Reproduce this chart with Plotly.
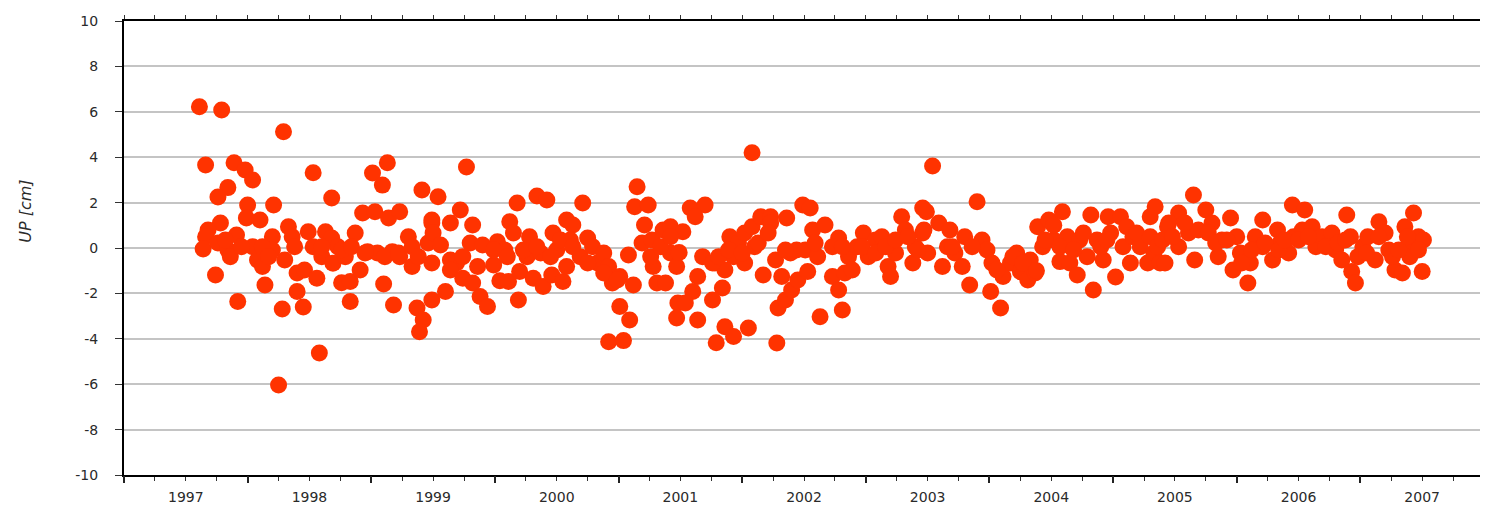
import plotly.graph_objects as go

# ---- data: decimal year vs. UP component [cm] ----
t_a = [1997.61, 1997.79, 1998.29, 1997.66, 1997.89, 1997.98, 1998.04, 1997.84, 1997.76, 1998.00,
       1998.21, 1997.99, 1998.10, 1997.78, 1997.68, 1997.66, 1997.64, 1997.76, 1997.84, 1997.86,
       1997.91, 1998.04, 1998.08, 1998.12, 1998.20, 1998.20, 1998.30, 1997.74, 1998.14, 1997.92,
       1998.28, 1998.40, 1998.45, 1998.58, 1998.25, 1998.53, 1998.68, 1998.33, 1998.36, 1998.40,
       1998.46, 1998.49, 1998.56, 1998.53, 1998.63, 1998.60, 1998.68, 1998.69, 1998.73, 1998.79,
       1998.76, 1998.83, 1998.83, 1998.87, 1998.91, 1998.93, 1999.03, 1999.01, 1999.09, 1999.13,
       1999.14, 1999.23, 1998.97, 1999.05, 1999.17, 1999.10, 1999.18, 1999.23, 1999.30, 1999.33,
       1999.37, 1999.42, 1999.39, 1999.41, 1999.49, 1999.46, 1999.49, 1999.49]
up_a = [6.22, 6.08, 5.12, 3.66, 3.76, 3.44, 3.00, 2.66, 2.25, 1.89,
        1.89, 1.32, 1.23, 1.10, 0.79, 0.50, -0.04, 0.22, -0.09, -0.38,
        0.57, 0.06, -0.53, -0.82, 0.50, -0.09, -0.53, -1.19, -1.63, -2.36,
        -2.69, -1.92, -2.60, -4.63, -6.04, 3.32, 2.20, 0.94, 0.50, -1.10,
        -0.97, 0.72, -1.33, 0.06, 0.72, -0.38, 0.44, -0.67, 0.06, -0.38,
        -1.53, -1.48, -2.36, 0.66, -0.97, 1.54, 1.60, 3.30, 2.77, 3.76,
        1.32, 1.60, -0.16, -0.22, -0.16, -1.59, -2.51, -0.38, 0.50, -0.82,
        -2.64, -3.17, -3.69, 2.56, 1.10, 0.22, -0.66, -2.29]

t_b = [1999.77, 1999.54, 1999.49, 1999.72, 1999.64, 1999.82, 1999.50, 1999.56, 1999.64, 1999.69,
       1999.64, 1999.80, 1999.90, 2000.02, 2000.08, 1999.86, 1999.99, 1999.74, 1999.82, 1999.60,
       1999.88, 1999.94, 2000.04, 2000.11, 2000.19, 2000.12, 2000.15, 2000.18, 2000.34, 2000.42,
       2000.28, 2000.26, 2000.20, 2000.31, 2000.39, 2000.37, 2000.46, 2000.47, 2000.50, 2000.55,
       2000.58, 2000.63, 2000.61, 2000.58, 2000.71, 2000.75, 2000.69, 2000.79, 2000.83, 2000.88,
       2000.92, 2000.95, 2001.01, 2001.12, 2001.01, 2001.09, 2000.92, 2001.04, 2001.08, 2001.15,
       2001.13, 2001.24, 2001.21, 2001.19, 2001.27, 2001.28, 2001.31, 2001.38, 2001.36, 2001.42,
       2001.42, 2001.47, 2001.48, 2001.47]
up_b = [3.57, 2.26, 1.23, 1.67, 1.10, 1.01, 0.66, 0.13, -0.53, -0.66,
        -0.97, 0.22, 0.13, 0.28, -0.09, -0.82, -0.75, -1.33, -1.54, -1.92,
        -2.14, -2.58, -1.44, -1.48, -2.29, 1.16, 0.66, 1.98, 2.29, 2.11,
        0.50, -0.38, -1.04, -1.33, -1.70, -0.22, -1.19, 0.66, -0.09, -1.48,
        1.23, 1.01, 0.35, -0.82, 1.98, 0.44, -0.38, 0.06, -0.66, -0.22,
        -0.82, -1.54, -1.26, -1.63, -2.58, -3.17, -4.13, -4.08, -0.31, 2.70,
        1.82, 1.89, 1.01, 0.22, 0.35, -0.82, -1.54, -1.54, 0.79, 0.94,
        -0.22, -0.82, -2.42, -3.08]

t_c = [2002.08, 2001.52, 2001.58, 2001.70, 2001.62, 2001.49, 2001.64, 2001.60, 2001.54, 2001.64,
       2001.84, 2001.76, 2001.86, 2001.93, 2001.79, 2002.05, 2001.68, 2001.78, 2001.86, 2001.90,
       2001.97, 2002.02, 2001.93, 2002.02, 2002.10, 2002.08, 2002.15, 2002.23, 2002.23, 2002.17,
       2002.27, 2002.32, 2002.36, 2002.29, 2002.35, 2002.40, 2002.45, 2002.53, 2002.28, 2002.39,
       2002.44, 2002.49, 2002.55, 2002.51, 2002.57, 2002.61, 2002.67, 2002.63, 2002.73, 2002.78,
       2002.78, 2002.81, 2002.83, 2002.86, 2002.89, 2002.93, 2002.98, 2003.02, 2003.08, 2003.13,
       2003.18, 2003.20, 2003.24, 2003.29, 2003.32, 2003.38, 2003.40, 2003.46, 2003.46]
up_c = [4.20, 0.72, 1.76, 1.89, 1.38, -0.20, -1.26, -1.92, -2.42, -3.17,
        -1.76, -2.29, -3.47, -3.90, -4.17, -3.52, -0.38, -0.66, -0.97, 0.50,
        0.22, 0.66, -0.38, -0.66, 0.06, 0.94, 1.38, 1.38, 1.10, -1.19,
        -0.53, -1.26, 1.32, -2.64, -2.29, -1.85, -1.41, -1.04, -4.19, -0.22,
        -0.09, 1.89, 1.76, -0.09, 0.79, -0.38, 1.01, -3.03, -1.26, 0.44,
        -1.85, -2.73, -1.10, -0.38, -0.97, 0.06, 0.66, -0.38, 0.35, 0.50,
        -0.82, -1.26, -0.22, 1.38, 0.79, -0.66, 0.06, 1.76, 0.66]

t_d = [2003.54, 2003.49, 2003.47, 2003.50, 2003.59, 2003.62, 2003.68, 2003.66, 2003.72, 2003.80,
       2003.78, 2003.84, 2003.90, 2003.94, 2003.98, 2004.02, 2004.01, 2004.09, 2004.11, 2004.17,
       2004.22, 2004.25, 2004.31, 2004.33, 2004.37, 2004.39, 2004.43, 2004.48, 2004.52, 2004.57,
       2004.59, 2004.63, 2004.65, 2004.71, 2004.73, 2004.79, 2004.82, 2004.84, 2004.87, 2004.92,
       2004.96, 2004.98, 2005.02, 2005.06, 2005.08, 2005.14, 2005.16, 2005.22, 2005.28, 2005.30,
       2005.34, 2005.33, 2005.38, 2005.44]
up_d = [3.61, 1.60, 0.79, -0.22, 1.10, -0.82, 0.79, 0.06, -0.22, 0.50,
        -0.82, -1.63, 2.04, 0.35, -0.09, -0.66, -1.92, -2.64, -1.26, -0.66,
        -0.22, -1.04, -1.41, -0.53, -1.10, 0.94, 0.06, 1.23, 0.35, -0.60,
        1.60, 0.50, -0.66, -1.19, 0.35, -0.38, 1.45, -1.85, 0.35, -0.53,
        1.38, 0.66, -1.28, 1.38, 0.06, -0.66, 0.50, 0.06, -0.66, 1.38,
        1.82, -0.22, -0.66, 0.94]

t_e = [2005.65, 2005.53, 2005.45, 2005.61, 2005.75, 2005.53, 2005.42, 2005.66, 2005.69, 2005.80,
       2005.85, 2005.88, 2005.95, 2005.97, 2006.00, 2006.03, 2006.09, 2006.11, 2006.15, 2006.21,
       2006.21, 2006.29, 2006.33, 2006.35, 2006.42, 2006.45, 2006.46, 2006.55, 2006.53, 2006.61,
       2006.64, 2006.69, 2006.77, 2006.80, 2006.85, 2006.89, 2006.92, 2006.93, 2006.96, 2007.02,
       2007.06, 2007.12, 2007.15, 2007.20, 2007.23, 2007.28, 2007.34, 2007.36, 2007.43, 2007.42,
       2007.47, 2007.51, 2007.50, 2007.40]
up_e = [2.33, 1.54, 1.10, 0.66, 1.67, 0.06, -0.66, -0.53, 0.79, 1.10,
        -0.38, 0.35, 1.32, -0.97, 0.50, -0.22, -1.54, -0.66, 0.50, 1.23,
        0.06, -0.53, 0.79, 0.22, -0.22, 1.89, 0.50, 1.67, 0.79, 0.94,
        0.06, 0.50, 0.66, -0.09, -0.53, 1.45, 0.50, -1.04, -1.54, 0.06,
        0.50, -0.53, 1.16, 0.66, -0.09, -0.97, -1.10, 0.94, 1.54, 0.22,
        0.50, 0.35, -1.04, -0.38]

# points hidden inside the dense central band
t_f = [1997.82, 1997.95, 1998.12, 1998.17, 1998.38, 1998.60, 1998.76, 1998.84, 1998.95, 1999.11,
       1999.22, 1999.33, 1999.38, 1999.74, 1999.99, 2000.10, 2000.23, 2000.34, 2000.45, 2000.53,
       2000.63, 2000.75, 2000.88, 2000.99, 2001.26, 2001.34, 2001.42, 2001.76, 2001.81, 2001.89,
       2002.00, 2002.13, 2002.21, 2002.35, 2002.59, 2002.73, 2002.81, 2002.97, 2003.08, 2003.16,
       2003.24, 2003.34, 2003.42, 2003.70, 2003.86, 2004.06, 2004.19, 2004.27, 2004.38, 2004.45,
       2004.52, 2004.57, 2004.68, 2004.76, 2004.90, 2004.95, 2005.11, 2005.19, 2005.30, 2005.36,
       2005.40, 2005.48, 2005.58, 2005.77, 2005.83, 2005.92, 2006.04, 2006.12, 2006.23, 2006.34,
       2006.39, 2006.50, 2006.58, 2006.72, 2006.82, 2006.88, 2006.98, 2007.05, 2007.15, 2007.26,
       2007.31, 2007.38, 2007.47]
up_f = [0.35, 0.06, 0.06, -0.38, 0.06, 0.06, -0.09, 0.06, -0.22, -0.38,
        -0.22, 0.06, -0.38, -0.38, -0.09, -0.38, -0.09, 0.06, -0.38, 0.35,
        0.06, -0.66, -1.10, -1.41, -0.38, 0.06, 0.50, -0.66, -0.38, -0.09,
        -0.22, 0.22, 0.66, -0.09, 0.22, 0.06, 0.06, 0.06, -0.22, 0.06,
        0.35, 0.50, -0.09, 0.06, 0.06, -0.97, -0.38, -0.66, -1.00, 0.35,
        1.00, 0.06, -0.09, 0.66, 0.06, 0.35, 0.94, 0.66, 0.50, 0.06,
        0.35, 0.50, 1.10, 0.66, 0.22, 0.35, -0.66, -0.09, 0.22, -0.09,
        0.35, 0.35, 0.50, 0.06, 0.22, 0.35, -0.38, -0.22, 0.50, -0.38,
        -0.09, 0.50, -0.09]

years = list(range(1997, 2008))
year_labels = [str(y) for y in years]
y_ticks = list(range(-10, 11, 2))
y_tick_labels = [str(v) for v in y_ticks]   # plain hyphen minus, as in the reference

t = t_a + t_b + t_c + t_d + t_e + t_f
up = up_a + up_b + up_c + up_d + up_e + up_f

FONT = "DejaVu Sans"
TXT = "#2a2a2a"
fig = go.Figure()
fig.add_trace(go.Scatter(
    x=t, y=up, mode="markers",
    marker=dict(size=17, color="#ff3300", line=dict(width=0)),
    showlegend=False, hoverinfo="x+y",
))
# invisible trace to activate the overlaying x axis for major (year) tick marks
fig.add_trace(go.Scatter(x=[years[0]], y=[0], xaxis="x2", mode="markers",
                         marker=dict(opacity=0), showlegend=False, hoverinfo="skip"))

fig.update_layout(
    width=1480, height=510,
    margin=dict(l=116, r=4, t=13, b=43, autoexpand=False),
    paper_bgcolor="white", plot_bgcolor="white",
    font=dict(family=FONT, size=14, color=TXT),
    xaxis=dict(
        range=[1997, 2008],
        tickvals=[y + 0.5 for y in years], ticktext=year_labels,
        ticks="", showgrid=False, zeroline=False,
        showline=True, linecolor="black", linewidth=2, mirror="ticks",
        tickfont=dict(family=FONT, size=14, color=TXT),
        ticklabelstandoff=8,
        minor=dict(ticks="outside", tick0=1997, dtick=0.25, ticklen=4,
                   tickcolor="#333", tickwidth=1, showgrid=False),
    ),
    xaxis2=dict(
        range=[1997, 2008], overlaying="x", anchor="y", side="bottom",
        tickvals=years, ticks="outside", ticklen=7, tickwidth=1.5, tickcolor="#222",
        showticklabels=False, showgrid=False, zeroline=False, showline=False,
    ),
    yaxis=dict(
        range=[-10, 10], tickvals=y_ticks, ticktext=y_tick_labels,
        ticks="outside", ticklen=7, tickcolor="#333", mirror="ticks",
        showline=True, linecolor="black", linewidth=2,
        showgrid=True, gridcolor="#c4c4c4", gridwidth=1.5, zeroline=False,
        tickfont=dict(family=FONT, size=14, color=TXT),
        ticklabelstandoff=14,
    ),
    annotations=[dict(
        text="<i>UP [cm]</i>", xref="paper", yref="paper",
        x=-0.072, y=0.58, xanchor="center", yanchor="middle",
        textangle=-90, showarrow=False,
        font=dict(family=FONT, size=16, color=TXT),
    )],
)

fig.write_html("out.html")
